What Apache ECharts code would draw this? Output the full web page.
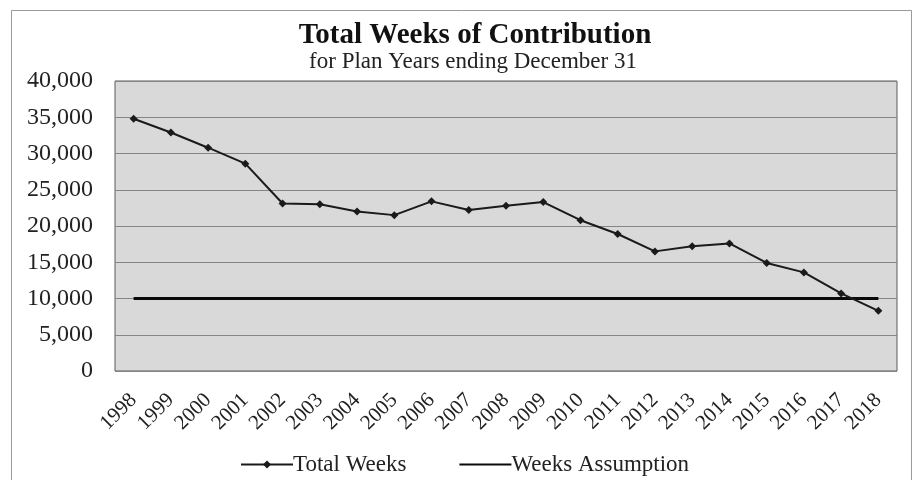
<!DOCTYPE html>
<html>
<head>
<meta charset="utf-8">
<script src="https://cdn.jsdelivr.net/npm/echarts@6/dist/echarts.min.js"></script>
<style>
  html, body { margin: 0; padding: 0; background: #ffffff; }
  #chart { width: 914px; height: 480px; }
</style>
</head>
<body>
<div id="chart"></div>
<script>
// Plan years shown along the category axis
const years = ['1998', '1999', '2000', '2001', '2002', '2003', '2004', '2005', '2006', '2007',
  '2008', '2009', '2010', '2011', '2012', '2013', '2014', '2015', '2016', '2017', '2018'];

// Total weeks of contribution per plan year
const totalWeeks = [34800, 32900, 30800, 28600, 23100, 23000, 22000, 21500, 23400, 22200,
  22800, 23300, 20800, 18900, 16500, 17200, 17600, 14900, 13600, 10700, 8300];

// Actuarial assumption for weeks of contribution (flat)
const weeksAssumption = years.map(() => 10000);

const serif = "'Liberation Serif', 'Times New Roman', serif";

const chart = echarts.init(document.getElementById('chart'), null, { renderer: 'canvas' });
chart.setOption({
  backgroundColor: '#ffffff',
  animation: false,
  graphic: [{
    type: 'rect',
    shape: { x: 11.5, y: 10.5, width: 900, height: 478 },
    style: { fill: 'none', stroke: '#9a9a9a', lineWidth: 1 },
    z: -1
  }],
  title: [{
    text: 'Total Weeks of Contribution',
    left: 475,
    textAlign: 'center',
    top: 21,
    padding: 0,
    textStyle: { fontFamily: serif, fontSize: 29, fontWeight: 'bold', color: '#111111' }
  }, {
    text: 'for Plan Years ending December 31',
    left: 473,
    textAlign: 'center',
    top: 50,
    padding: 0,
    textStyle: { fontFamily: serif, fontSize: 23, fontWeight: 'normal', color: '#222222' }
  }],
  legend: {
    top: 448,
    left: 235,
    itemGap: 52,
    itemWidth: 52,
    itemHeight: 10,
    textStyle: { fontFamily: serif, fontSize: 23, color: '#222222', padding: [0, 0, 0, -5] },
    data: [
      { name: 'Total Weeks' },
      { name: 'Weeks Assumption', itemStyle: { opacity: 0 } }
    ]
  },
  grid: {
    left: 115, right: 17, top: 81, bottom: 109,
    show: true,
    backgroundColor: '#d9d9d9',
    borderColor: '#5a5a5a',
    borderWidth: 1
  },
  xAxis: {
    type: 'category',
    data: years,
    boundaryGap: true,
    axisLine: { show: false },
    axisTick: { show: false },
    axisLabel: {
      rotate: 45,
      margin: 26,
      fontFamily: serif,
      fontSize: 21,
      color: '#222222',
      interval: 0
    }
  },
  yAxis: {
    type: 'value',
    min: 0,
    max: 40000,
    interval: 5000,
    axisLine: { show: false },
    axisTick: { show: false },
    splitLine: { lineStyle: { color: '#858585', width: 1 } },
    axisLabel: {
      margin: 22,
      fontFamily: serif,
      fontSize: 24,
      color: '#222222',
      formatter: v => v.toLocaleString('en-US')
    }
  },
  series: [
    {
      name: 'Total Weeks',
      type: 'line',
      data: totalWeeks,
      symbol: 'diamond',
      symbolSize: 8,
      showAllSymbol: true,
      lineStyle: { color: '#1a1a1a', width: 2 },
      itemStyle: { color: '#1a1a1a' },
      z: 3
    },
    {
      name: 'Weeks Assumption',
      type: 'line',
      data: weeksAssumption,
      symbol: 'none',
      lineStyle: { color: '#0a0a0a', width: 3 },
      itemStyle: { color: '#0a0a0a' },
      z: 2
    }
  ]
});
</script>
</body>
</html>
